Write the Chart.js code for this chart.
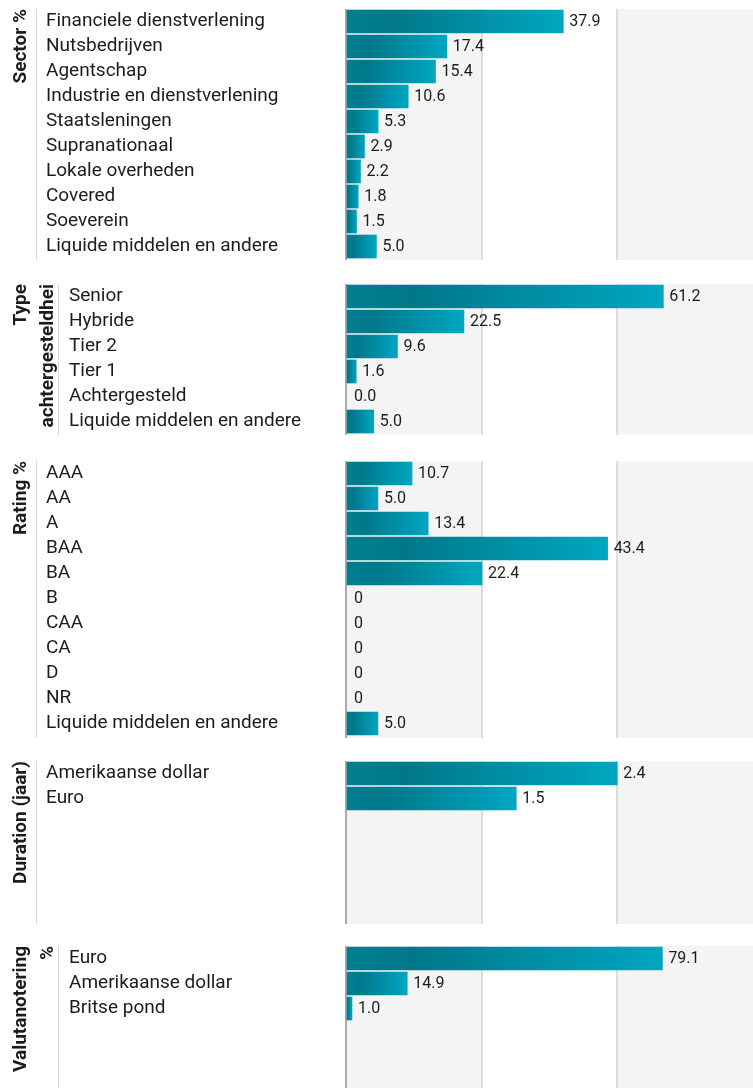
<!DOCTYPE html>
<html>
<head>
<meta charset="utf-8">
<script src="https://cdn.jsdelivr.net/npm/chart.js@4/dist/chart.umd.min.js"></script>
<style>
  html, body { margin: 0; padding: 0; background: #ffffff; width: 753px; height: 1088px; overflow: hidden; }
  canvas { position: absolute; left: 0; }
</style>
</head>
<body>
<canvas id="c1"></canvas>
<canvas id="c2"></canvas>
<canvas id="c3"></canvas>
<canvas id="c4"></canvas>
<canvas id="c5"></canvas>
<script>
// ---------- data ----------
const sectorTitle = ['Sector %'];
const sectorLabels = ['Financiele dienstverlening', 'Nutsbedrijven', 'Agentschap', 'Industrie en dienstverlening', 'Staatsleningen', 'Supranationaal', 'Lokale overheden', 'Covered', 'Soeverein', 'Liquide middelen en andere'];
const sectorValues = [37.9, 17.4, 15.4, 10.6, 5.3, 2.9, 2.2, 1.8, 1.5, 5.0];

const typeTitle = ['Type', 'achtergesteldhei'];
const typeLabels = ['Senior', 'Hybride', 'Tier 2', 'Tier 1', 'Achtergesteld', 'Liquide middelen en andere'];
const typeValues = [61.2, 22.5, 9.6, 1.6, 0.0, 5.0];

const ratingTitle = ['Rating %'];
const ratingLabels = ['AAA', 'AA', 'A', 'BAA', 'BA', 'B', 'CAA', 'CA', 'D', 'NR', 'Liquide middelen en andere'];
const ratingValues = [10.7, 5.0, 13.4, 43.4, 22.4, 0, 0, 0, 0, 0, 5.0];

const durationTitle = ['Duration (jaar)'];
const durationLabels = ['Amerikaanse dollar', 'Euro'];
const durationValues = [2.4, 1.5];

const currencyTitle = ['Valutanotering', '%'];
const currencyLabels = ['Euro', 'Amerikaanse dollar', 'Britse pond'];
const currencyValues = [79.1, 14.9, 1.0];

// ---------- styling ----------
const FONT = 'Roboto, "Liberation Sans", "DejaVu Sans", sans-serif';
const TEXT = '#1c1c1c';
const ROW = 25;          // pixel pitch of one row
const ZERO_SHIFT = 2;    // px the zero line sits right of the axis

const fixed1 = v => v.toFixed(1);
const ratingFmt = v => (v === 0 ? '0' : v.toFixed(1));

const panels = [
  { id: 'c1', top: 9,   height: 251, titleWidth: 36, gap: 10, max: 71.3,  title: sectorTitle,   labels: sectorLabels,   values: sectorValues,   fmt: fixed1 },
  { id: 'c2', top: 284, height: 151, titleWidth: 58, gap: 11, max: 78.6,  title: typeTitle,     labels: typeLabels,     values: typeValues,     fmt: fixed1 },
  { id: 'c3', top: 461, height: 277, titleWidth: 36, gap: 10, max: 67.7,  title: ratingTitle,   labels: ratingLabels,   values: ratingValues,   fmt: ratingFmt },
  { id: 'c4', top: 761, height: 163, titleWidth: 36, gap: 10, max: 3.61,  title: durationTitle, labels: durationLabels, values: durationValues, fmt: fixed1 },
  { id: 'c5', top: 946, height: 142, titleWidth: 58, gap: 11, max: 101.9, title: currencyTitle, labels: currencyLabels, values: currencyValues, fmt: fixed1 }
];

function barFill(c) {
  const chart = c.chart;
  if (!chart.chartArea || !c.raw) return '#00879a';
  if (c.raw.x === 0) return 'rgba(0,0,0,0)';
  const xs = chart.scales.x;
  const x0 = xs.getPixelForValue(xs.min);
  const x1 = xs.getPixelForValue(c.raw.x);
  if (x1 - x0 < 2) return '#00879a';
  const g = chart.ctx.createLinearGradient(x0, 0, x1, 0);
  g.addColorStop(0, '#007f91');
  g.addColorStop(0.22, '#00788a');
  g.addColorStop(1, '#00a6c1');
  return g;
}

const bandsPlugin = {
  id: 'bands',
  beforeDraw(chart) {
    const { ctx, chartArea: a, scales: { x } } = chart;
    const px = x.ticks.map(t => x.getPixelForValue(t.value));
    ctx.save();
    ctx.fillStyle = '#f4f4f4';
    [0, 2].forEach(i => {
      if (px[i + 1] !== undefined) ctx.fillRect(px[i], a.top, px[i + 1] - px[i], a.bottom - a.top);
    });
    ctx.restore();
  }
};

function valueLabelPlugin(p) {
  return {
    id: 'valueLabels',
    afterDatasetsDraw(chart) {
      const { ctx } = chart;
      const meta = chart.getDatasetMeta(0);
      ctx.save();
      ctx.font = '16px ' + FONT;
      ctx.fillStyle = TEXT;
      ctx.textAlign = 'left';
      ctx.textBaseline = 'middle';
      meta.data.forEach((bar, i) => {
        ctx.fillText(p.fmt(p.values[i]), bar.x + 6, bar.y + 0.5);
      });
      ctx.restore();
    }
  };
}

function makeChart(p) {
  const cv = document.getElementById(p.id);
  cv.style.top = p.top + 'px';
  cv.width = 753;
  cv.height = p.height;
  const plotWidth = 753 - 346;
  const xmin = -p.max * ZERO_SHIFT / (plotWidth - ZERO_SHIFT);
  const rows = p.height / ROW;

  new Chart(cv, {
    type: 'bar',
    data: {
      datasets: [{
        data: p.values.map((v, i) => ({ x: v, y: i })),
        xAxisID: 'x',
        yAxisID: 'y',
        base: xmin,
        barThickness: 23,
        borderWidth: 0,
        backgroundColor: barFill
      }]
    },
    options: {
      indexAxis: 'y',
      responsive: false,
      animation: false,
      devicePixelRatio: 1,
      layout: { padding: 0 },
      events: [],
      plugins: { legend: { display: false }, tooltip: { enabled: false } },
      scales: {
        x: {
          type: 'linear', axis: 'x', position: 'bottom', offset: false,
          min: xmin, max: p.max,
          ticks: { display: false },
          grid: {
            drawTicks: false, lineWidth: 2, offset: false,
            color: c => (c.index === 1 || c.index === 2) ? '#dddddd' : 'rgba(0,0,0,0)'
          },
          border: { display: false },
          afterBuildTicks: s => { s.ticks = [0, 1, 2, 3].map(i => ({ value: s.min + (s.max - s.min) * i / 3 })); }
        },
        y: {
          type: 'linear', axis: 'y', position: 'left', weight: 1, offset: false,
          reverse: true, min: -0.5, max: rows - 0.5,
          afterBuildTicks: s => { s.ticks = p.labels.map((_, i) => ({ value: i })); },
          ticks: {
            crossAlign: 'far', autoSkip: false, color: TEXT,
            font: { family: FONT, size: 19 },
            callback: v => (p.labels[v] !== undefined ? p.labels[v] : '')
          },
          grid: { display: false, drawTicks: false, offset: false },
          border: { display: true, color: '#ababab', width: 2 },
          afterFit: s => { s.width = 346 - p.titleWidth - p.gap; s.paddingTop = 0; s.paddingBottom = 0; }
        },
        ys: {
          type: 'linear', axis: 'y', position: 'left', weight: 2, offset: false,
          ticks: { display: false },
          grid: { display: false, drawTicks: false },
          border: { display: false },
          afterFit: s => { s.width = p.gap; }
        },
        yt: {
          type: 'linear', axis: 'y', position: 'left', weight: 3, offset: false,
          ticks: { display: false },
          grid: { display: false, drawTicks: false },
          border: { display: true, color: '#d6d6d6', width: 1 },
          title: {
            display: true, text: p.title, align: 'end', color: TEXT,
            font: { family: FONT, size: 19, weight: 'bold', lineHeight: 1.45 },
            padding: { top: 7, bottom: 0 }
          },
          afterFit: s => { s.width = p.titleWidth; }
        }
      }
    },
    plugins: [bandsPlugin, valueLabelPlugin(p)]
  });
}

panels.forEach(makeChart);
</script>
</body>
</html>
